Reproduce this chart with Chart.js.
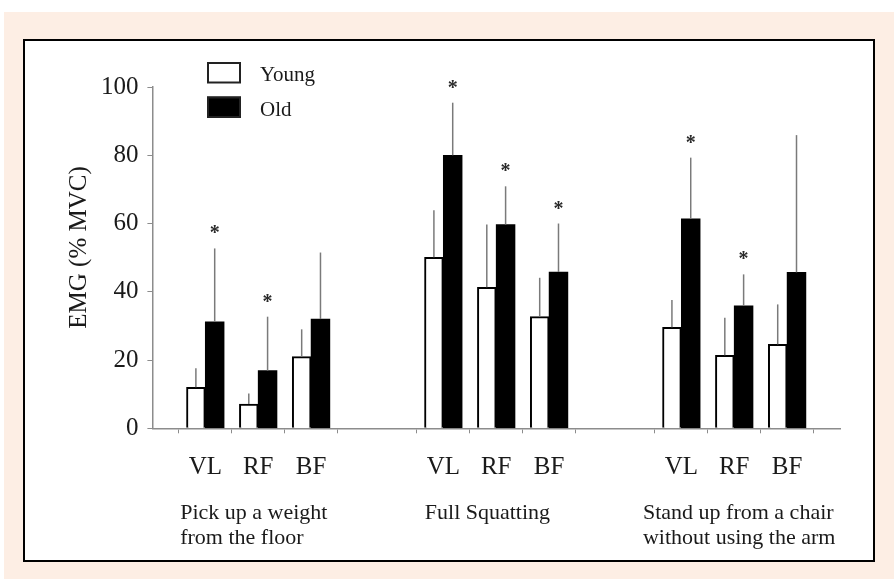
<!DOCTYPE html>
<html>
<head>
<meta charset="utf-8">
<script src="https://cdn.jsdelivr.net/npm/chart.js@4.4.1/dist/chart.umd.min.js"></script>
<style>
  html, body { margin: 0; padding: 0; background: #ffffff; }
  #page { position: relative; width: 894px; height: 579px; overflow: hidden; }
  #beige { position: absolute; left: 4px; top: 12px; width: 890px; height: 567px; background: #fdeee4; }
  #frame { position: absolute; left: 23px; top: 39px; width: 852px; height: 523px; box-sizing: border-box; border: 2px solid #000; background: #fff; }
  #chart { position: absolute; left: 0; top: 0; }
</style>
</head>
<body>
<div id="page">
  <div id="beige"></div>
  <div id="frame"></div>
  <canvas id="chart" width="894" height="579"></canvas>
</div>
<script>
const tasks = [
  ["Pick up a weight", "from the floor"],
  ["Full Squatting"],
  ["Stand up from a chair", "without using the arm"]
];
const muscles = ["VL", "RF", "BF"];
const seriesNames = ["Young", "Old"];
const yTitle = "EMG (% MVC)";

// mean EMG (% MVC), task by task, VL / RF / BF
const youngMean = [12.0, 7.1, 21.0, 50.1, 41.3, 32.7, 29.6, 21.4, 24.6];
const youngSD   = [5.6, 3.1, 8.0, 13.8, 18.4, 11.4, 8.0, 11.0, 11.7];
const oldMean   = [31.2, 16.9, 32.0, 80.0, 59.7, 45.8, 61.4, 35.9, 45.7];
const oldSD     = [21.5, 15.8, 19.5, 15.4, 11.2, 14.2, 17.9, 9.2, 40.2];
const significant = [true, true, false, true, true, true, true, true, false];

const yTicks = [0, 20, 40, 60, 80, 100];

// x layout: each muscle slot is 2 units wide, 3 units gap between tasks
const slotCenter = i => Math.floor(i / 3) * 9 + (i % 3) * 2 + 2;
const centers = youngMean.map((_, i) => slotCenter(i));
const bounds = [];
centers.forEach((c, i) => {
  if (i % 3 === 0) bounds.push(c - 1);
  bounds.push(c + 1);
});
const labelAt = {};
centers.forEach((c, i) => { labelAt[c] = muscles[i % 3]; });

const axisGray = "#8c8c8c";
const textColor = "#1a1a1a";
const serif = "'Liberation Serif', 'DejaVu Serif', serif";

const extras = {
  id: "extras",
  afterDatasetsDraw(chart) {
    const ctx = chart.ctx;
    const y = chart.scales.y;
    const x = chart.scales.x;
    const sds = [youngSD, oldSD];
    ctx.save();
    // one-sided error bars
    chart.data.datasets.forEach((ds, d) => {
      const meta = chart.getDatasetMeta(d);
      meta.data.forEach((bar, i) => {
        const top = y.getPixelForValue(ds.data[i].y + sds[d][i]);
        ctx.strokeStyle = "#7a7a7a";
        ctx.lineWidth = 1.5;
        ctx.beginPath();
        ctx.moveTo(bar.x, bar.y);
        ctx.lineTo(bar.x, top);
        ctx.stroke();
        if (d === 1 && significant[i]) {
          ctx.fillStyle = "#2a2a2a";
          ctx.font = "bold 20px " + serif;
          ctx.textAlign = "center";
          ctx.textBaseline = "alphabetic";
          ctx.fillText("*", bar.x, top - 9);
        }
      });
    });

    // y axis title, a little above the middle of the axis
    ctx.save();
    ctx.translate(79, 247.5);
    ctx.rotate(-Math.PI / 2);
    ctx.fillStyle = textColor;
    ctx.font = "25px " + serif;
    ctx.textAlign = "center";
    ctx.textBaseline = "middle";
    ctx.fillText(yTitle, 0, 0);
    ctx.restore();

    // task captions under the muscle labels
    const anchors = [1.05, 10.3, 18.55];
    ctx.fillStyle = textColor;
    ctx.font = "22px " + serif;
    ctx.textAlign = "left";
    ctx.textBaseline = "alphabetic";
    tasks.forEach((lines, t) => {
      const px = x.getPixelForValue(anchors[t]);
      lines.forEach((line, k) => {
        ctx.fillText(line, px, chart.chartArea.bottom + 91 + k * 25);
      });
    });

    // legend inside the plot, top left
    const fills = ["#ffffff", "#000000"];
    seriesNames.forEach((name, k) => {
      const top = 62 + k * 34.5;
      ctx.fillStyle = fills[k];
      ctx.fillRect(207, top, 34, 21.5);
      ctx.strokeStyle = "#222";
      ctx.lineWidth = 2;
      ctx.strokeRect(208, top + 1, 32, 19.5);
      ctx.fillStyle = textColor;
      ctx.font = "21px " + serif;
      ctx.textAlign = "left";
      ctx.fillText(name, 260, top + 19);
    });
    ctx.restore();
  }
};

new Chart(document.getElementById("chart"), {
  type: "bar",
  data: {
    datasets: [
      {
        label: seriesNames[0],
        data: youngMean.map((v, i) => ({ x: centers[i], y: v })),
        backgroundColor: "#ffffff",
        borderColor: "#000000",
        borderWidth: 2
      },
      {
        label: seriesNames[1],
        data: oldMean.map((v, i) => ({ x: centers[i], y: v })),
        backgroundColor: "#000000",
        borderColor: "#000000",
        borderWidth: 0
      }
    ]
  },
  options: {
    responsive: false,
    devicePixelRatio: 1,
    animation: false,
    layout: { padding: { left: 0, top: 87, right: 54, bottom: 0 } },
    datasets: {
      bar: { barThickness: 18.8 }
    },
    plugins: {
      legend: { display: false },
      tooltip: { enabled: false }
    },
    scales: {
      x: {
        type: "linear",
        min: 0,
        max: 26,
        offset: false,
        afterFit: scale => { scale.height = 150.7; },
        afterBuildTicks: scale => {
          scale.ticks = bounds.concat(centers).sort((a, b) => a - b).map(v => ({ value: v }));
        },
        grid: {
          offset: false,
          drawOnChartArea: false,
          tickLength: 5,
          tickWidth: 1,
          tickColor: c => (c.tick && labelAt[c.tick.value]) ? "rgba(0,0,0,0)" : axisGray
        },
        border: { display: true, color: axisGray, width: 1.5 },
        ticks: {
          autoSkip: false,
          maxRotation: 0,
          padding: 19,
          color: textColor,
          font: { family: serif, size: 25 },
          callback: v => labelAt[v] || ""
        }
      },
      y: {
        min: 0,
        max: 100,
        afterFit: scale => { scale.width = 152.4; },
        afterBuildTicks: scale => {
          scale.ticks = yTicks.map(v => ({ value: v }));
        },
        grid: {
          drawOnChartArea: false,
          tickLength: 5,
          tickWidth: 1,
          tickColor: axisGray
        },
        border: { display: true, color: axisGray, width: 1.5 },
        ticks: {
          padding: 9,
          color: textColor,
          font: { family: serif, size: 25 }
        }
      }
    }
  },
  plugins: [extras]
});
</script>
</body>
</html>
